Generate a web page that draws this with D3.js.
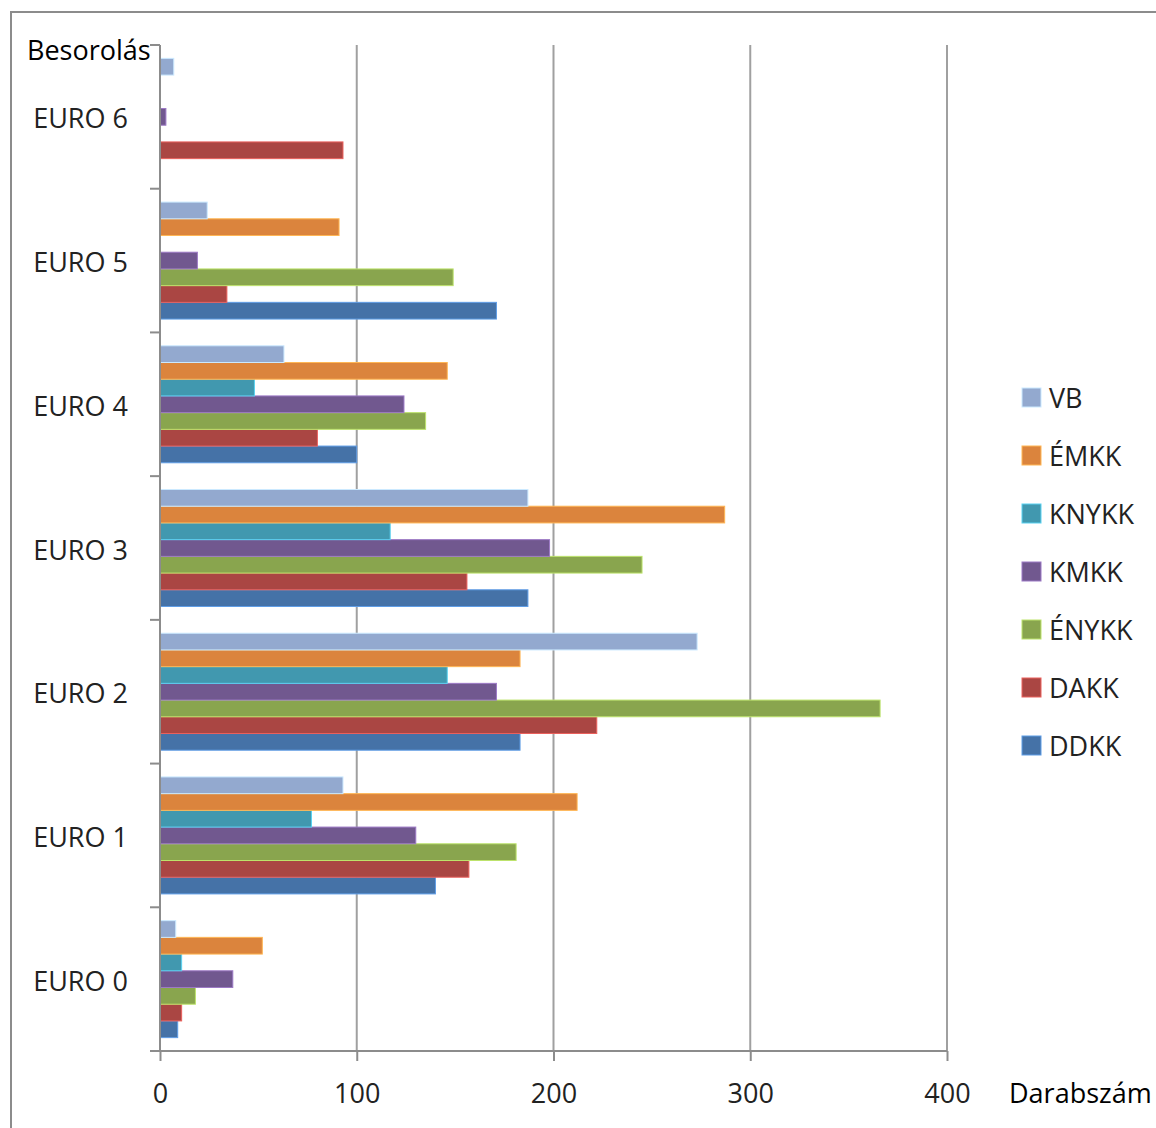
<!DOCTYPE html>
<html>
<head>
<meta charset="utf-8">
<script src="https://cdn.jsdelivr.net/npm/d3@7"></script>
<style>
  html, body { margin: 0; padding: 0; background: #fff; }
  svg { display: block; }
  text { font-family: "Open Sans", "DejaVu Sans", sans-serif; }
</style>
</head>
<body>
<svg id="chart" width="1156" height="1128"></svg>
<script>
// ---- Data ----
const categories = ["EURO 0", "EURO 1", "EURO 2", "EURO 3", "EURO 4", "EURO 5", "EURO 6"];
const seriesNames = ["DDKK", "DAKK", "ÉNYKK", "KMKK", "KNYKK", "ÉMKK", "VB"];
const seriesColors = ["#4572A7", "#AA4643", "#89A54E", "#71588F", "#4198AF", "#DB843D", "#93A9CF"];
const DDKK  = [9, 140, 183, 187, 100, 171, 0];
const DAKK  = [11, 157, 222, 156, 80, 34, 93];
const ENYKK = [18, 181, 366, 245, 135, 149, 0];
const KMKK  = [37, 130, 171, 198, 124, 19, 3];
const KNYKK = [11, 77, 146, 117, 48, 0, 0];
const EMKK  = [52, 212, 183, 287, 146, 91, 0];
const VB    = [8, 93, 273, 187, 63, 24, 7];
const seriesValues = [DDKK, DAKK, ENYKK, KMKK, KNYKK, EMKK, VB];
const xTicks = [0, 100, 200, 300, 400];
const legendOrder = ["VB", "ÉMKK", "KNYKK", "KMKK", "ÉNYKK", "DAKK", "DDKK"];
const xTitle = "Darabszám";
const yTitle = "Besorolás";

// ---- Layout ----
const svg = d3.select("#chart");
const plot = { left: 160, right: 947, top: 45, bottom: 1051 };

// outer frame (clipped by page edges)
svg.append("rect")
  .attr("x", 11).attr("y", 12).attr("width", 1170).attr("height", 1140)
  .attr("fill", "none").attr("stroke", "#8c8c8c").attr("stroke-width", 2);

const x = d3.scaleLinear().domain([0, 400]).range([plot.left, plot.right]);
const y = d3.scaleBand().domain(categories).range([plot.bottom, plot.top]).paddingInner(0).paddingOuter(0);
const yInner = d3.scaleBand().domain(seriesNames).range([y.bandwidth(), 0]).paddingInner(0).paddingOuter(0.8);
const color = d3.scaleOrdinal().domain(seriesNames).range(seriesColors);

// gridlines
svg.append("g").selectAll("line")
  .data(xTicks.filter(d => d > 0))
  .join("line")
  .attr("x1", d => x(d)).attr("x2", d => x(d))
  .attr("y1", plot.top).attr("y2", plot.bottom)
  .attr("stroke", "#a0a0a0").attr("stroke-width", 2);

// bars
const rows = [];
seriesNames.forEach((s, i) => {
  categories.forEach((c, j) => {
    rows.push({ series: s, cat: c, value: seriesValues[i][j] });
  });
});
svg.append("g").selectAll("rect")
  .data(rows.filter(d => d.value > 0))
  .join("rect")
  .attr("x", x(0))
  .attr("y", d => y(d.cat) + yInner(d.series))
  .attr("width", d => x(d.value) - x(0))
  .attr("height", yInner.bandwidth())
  .attr("fill", d => color(d.series))
  .attr("stroke", d => d3.color(color(d.series)).brighter(0.9))
  .attr("stroke-width", 1);

// x axis
const xAxis = d3.axisBottom(x).tickValues(xTicks).tickSize(10).tickPadding(23);
const gx = svg.append("g").attr("transform", `translate(0,${plot.bottom})`).call(xAxis);
gx.select(".domain").attr("stroke", "#8c8c8c").attr("stroke-width", 2)
  .attr("d", `M${plot.left - 10},0H${plot.right}`);
gx.selectAll(".tick line").attr("stroke", "#8c8c8c").attr("stroke-width", 2);
gx.selectAll(".tick text").attr("font-size", 27).attr("fill", "#222")
  .attr("font-family", "'Open Sans', sans-serif").attr("dy", "0.71em");

// y axis
const gy = svg.append("g").attr("transform", `translate(${plot.left},0)`);
gy.append("line").attr("x1", 0).attr("x2", 0).attr("y1", plot.top).attr("y2", plot.bottom)
  .attr("stroke", "#8c8c8c").attr("stroke-width", 2);
const boundaries = categories.map(c => y(c)).concat([y(categories[0]) + y.bandwidth()]);
gy.selectAll("line.tk").data(boundaries).join("line").attr("class", "tk")
  .attr("x1", -10).attr("x2", 0).attr("y1", d => d).attr("y2", d => d)
  .attr("stroke", "#8c8c8c").attr("stroke-width", 2);
gy.selectAll("text").data(categories).join("text")
  .attr("x", -32).attr("y", d => y(d) + y.bandwidth() / 2 + 1)
  .attr("text-anchor", "end").attr("dominant-baseline", "central")
  .attr("font-size", 27).attr("fill", "#222").text(d => d);

// axis titles
svg.append("text").attr("x", 27).attr("y", 60).attr("font-size", 27).attr("fill", "#000").text(yTitle);
svg.append("text").attr("x", 1009).attr("y", 1103).attr("font-size", 27).attr("fill", "#000").text(xTitle);

// legend
const lg = svg.append("g");
const legendY = d3.scalePoint().domain(legendOrder).range([397, 745]);
const items = lg.selectAll("g").data(legendOrder).join("g")
  .attr("transform", d => `translate(1022,${legendY(d)})`);
items.append("rect").attr("x", 0).attr("y", -9).attr("width", 19).attr("height", 19)
  .attr("fill", d => color(d))
  .attr("stroke", d => d3.color(color(d)).brighter(0.9)).attr("stroke-width", 1);
items.append("text").attr("x", 27).attr("y", 0).attr("dominant-baseline", "central")
  .attr("font-size", 27).attr("fill", "#222").text(d => d);
</script>
</body>
</html>
